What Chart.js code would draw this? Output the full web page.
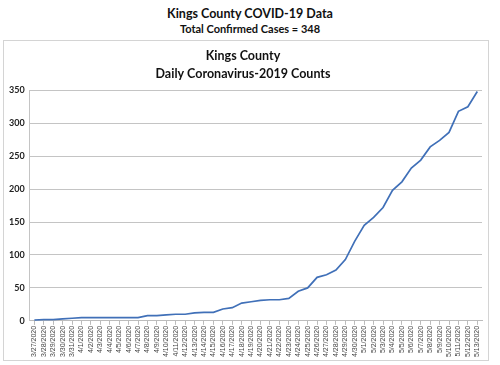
<!DOCTYPE html>
<html>
<head>
<meta charset="utf-8">
<script src="https://cdn.jsdelivr.net/npm/chart.js@4"></script>
<style>
  body { margin: 0; background: #fff; font-family: Lato, 'Open Sans', sans-serif; }
  .head { position: absolute; left: 0; width: 500px; text-align: center; font-weight: bold; color: #111; }
  #h1 { top: 6px; font-size: 12.5px; }
  #h2 { top: 22px; font-size: 11px; }
  #box { position: absolute; left: 3px; top: 40px; width: 484px; height: 319px; border: 1px solid #d4d4d4; }
</style>
</head>
<body>
<div class="head" id="h1">Kings County COVID-19 Data</div>
<div class="head" id="h2">Total Confirmed Cases = 348</div>
<div id="box"><canvas id="chart" width="484" height="319"></canvas></div>
<script>
const dates = [
  '3/27/2020', '3/28/2020', '3/29/2020', '3/30/2020', '3/31/2020',
  '4/1/2020', '4/2/2020', '4/3/2020', '4/4/2020', '4/5/2020', '4/6/2020', '4/7/2020',
  '4/8/2020', '4/9/2020', '4/10/2020', '4/11/2020', '4/12/2020', '4/13/2020', '4/14/2020',
  '4/15/2020', '4/16/2020', '4/17/2020', '4/18/2020', '4/19/2020', '4/20/2020', '4/21/2020',
  '4/22/2020', '4/23/2020', '4/24/2020', '4/25/2020', '4/26/2020', '4/27/2020', '4/28/2020',
  '4/29/2020', '4/30/2020', '5/1/2020', '5/2/2020', '5/3/2020', '5/4/2020', '5/5/2020',
  '5/6/2020', '5/7/2020', '5/8/2020', '5/9/2020', '5/10/2020', '5/11/2020', '5/12/2020',
  '5/13/2020'
];
const cases = [
  1, 2, 2, 3, 4, 5, 5, 5, 5, 5, 5, 5,
  8, 8, 9, 10, 10, 12, 13, 13, 18, 20, 27, 29,
  31, 32, 32, 34, 45, 50, 66, 70, 77, 93, 121, 145,
  157, 172, 198, 211, 232, 244, 264, 274, 286, 318, 325, 348
];
const yTicks = [0, 50, 100, 150, 200, 250, 300, 350];

new Chart(document.getElementById('chart'), {
  type: 'line',
  data: {
    labels: dates,
    datasets: [{
      data: cases,
      borderColor: '#4070b8',
      borderWidth: 1.7,
      pointRadius: 0,
      tension: 0,
      fill: false,
    }],
  },
  options: {
    responsive: false,
    animation: false,
    layout: { padding: { left: 0, right: 6, top: 0, bottom: 2 } },
    plugins: {
      legend: { display: false },
      tooltip: { enabled: false },
      title: {
        display: true,
        text: ['Kings County', 'Daily Coronavirus-2019 Counts'],
        color: '#111',
        font: { family: 'Lato', size: 12.5, weight: 'bold', lineHeight: 1.45 },
        padding: { top: 6, bottom: 7 },
      },
    },
    scales: {
      x: {
        offset: true,
        grid: { display: true, drawOnChartArea: false, color: '#bcbcbc', tickLength: 4 },
        border: { color: '#bcbcbc' },
        ticks: {
          color: '#444',
          autoSkip: false,
          minRotation: 90,
          maxRotation: 90,
          padding: 1,
          font: { family: 'Liberation Sans', size: 7 },
        },
      },
      y: {
        min: 0,
        max: 350,
        afterBuildTicks: axis => { axis.ticks = yTicks.map(v => ({ value: v })); },
        grid: { color: '#c4c4c4', drawTicks: false },
        border: { color: '#c4c4c4' },
        ticks: {
          color: '#222',
          padding: 5,
          font: { family: 'Lato', size: 9, weight: 'bold' },
        },
      },
    },
  },
});
</script>
</body>
</html>
